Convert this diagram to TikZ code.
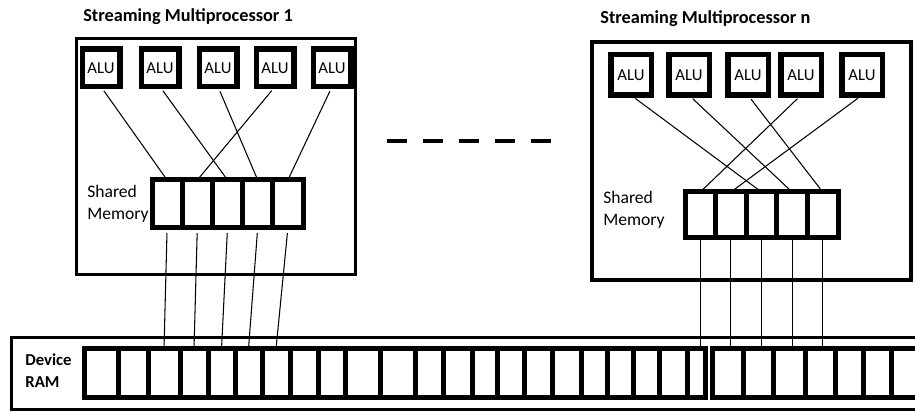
\documentclass[tikz,border=0pt]{standalone}
\usepackage{fontspec}
\setmainfont{Carlito}
\usetikzlibrary{calc}

\begin{document}
\begin{tikzpicture}[x=0.2mm, y=-0.2mm,
  alu/.style={draw, line width=1.1mm, minimum size=7.5mm, inner sep=0pt, outer sep=0pt, font=\fontsize{9.5}{10}\selectfont},
  smbox/.style={draw, line width=0.7mm, inner sep=0pt, outer sep=0pt},
  cell/.style={draw, line width=1mm, inner sep=0pt, outer sep=0pt, anchor=west},
  wire/.style={line width=0.6pt, shorten <=1mm},
  title/.style={anchor=west, inner sep=0pt, font=\bfseries\fontsize{10.4}{11}\selectfont},
  lbl/.style={anchor=west, inner sep=0pt, align=left, font=\fontsize{10}{12.5}\selectfont}]

\useasboundingbox (0,0) rectangle (915,414);
\clip (0,0) rectangle (915,414);

% ---------- streaming multiprocessor 1 ----------
\node[smbox, minimum width=55.8mm, minimum height=47.2mm] (sm1) at (216,156.5) {};
\node[title] (t1) at (83,17) {Streaming Multiprocessor 1};
\foreach \x [count=\i] in {101,160,218,275,332}
  \node[alu] (a1-\i) at (\x,68) {ALU};
\foreach \k in {1,...,5}
  \node[cell, minimum width=6.04mm, minimum height=9.6mm] (m1-\k) at ({152+30.2*(\k-1)},204) {};
\node[lbl] (s1) at (87,204) {Shared\\Memory};

% ALUs to shared memory
\foreach \a/\m in {1/1,2/3,3/4,4/2,5/5}
  \draw[wire, shorten >=0.6mm] (a1-\a.south) -- (m1-\m.north);

% ---------- streaming multiprocessor n ----------
\node[smbox, minimum width=63.8mm, minimum height=47.6mm] (smn) at (751.5,161) {};
\node[title] (tn) at (600,19) {Streaming Multiprocessor n};
\foreach \x [count=\i] in {631,689,748,801,862}
  \node[alu, minimum size=8.1mm] (an-\i) at (\x,75) {ALU};
\foreach \k in {1,...,5}
  \node[cell, minimum width=6.12mm, minimum height=9.2mm] (mn-\k) at ({685+30.6*(\k-1)},215) {};
\node[lbl] (sn) at (603,209.5) {Shared\\Memory};

\foreach \a/\m in {1/3,2/4,3/5,4/1,5/2}
  \draw[wire, shorten >=0.6mm] (an-\a.south) -- (mn-\m.north);

% dots between the multiprocessors
\coordinate (dl) at (387,141);
\coordinate (dr) at (551,141);
\draw[line width=0.9mm, dash pattern=on 4mm off 3.2mm] (dl) -- (dr);

% ---------- device RAM ----------
\node[smbox, minimum width=185.7mm, minimum height=14.4mm] (ram) at (475.75,373.5) {};
\node[lbl, font=\bfseries\fontsize{9.5}{12.5}\selectfont] (dev) at (25,371) {Device\\RAM};
\foreach \l/\r [count=\k] in {84/118,118/148,148/180,180/208,208/235,235/262,262/290,290/318,318/345}
  \node[cell, minimum width={(\r-\l)*0.2mm}, minimum height=9.8mm] (ra-\k) at (\l,373.5) {};
\foreach \l/\r [count=\k] in {345/380,380/415,415/443,443/472,472/497,497/524,524/552,552/581,581/607,607/633,633/659,659/687,687/705}
  \node[cell, minimum width={(\r-\l)*0.2mm}, minimum height=9.8mm] (rb-\k) at (\l,373.5) {};
\foreach \l/\r [count=\k] in {712/743,743/773,773/805,805/835,835/863,863/891,891/920,920/950}
  \node[cell, minimum width={(\r-\l)*0.2mm}, minimum height=9.8mm] (rc-\k) at (\l,373.5) {};

% shared memory to device RAM
\foreach \m/\r in {1/3,2/4,3/5,4/6,5/7}
  \draw[wire] (m1-\m.south) -- (ra-\r.north);
\foreach \m in {1,...,5}
  \draw[wire, shorten <=0pt] (mn-\m.south) -- (mn-\m.south |- rc-1.north);

\end{tikzpicture}
\end{document}
